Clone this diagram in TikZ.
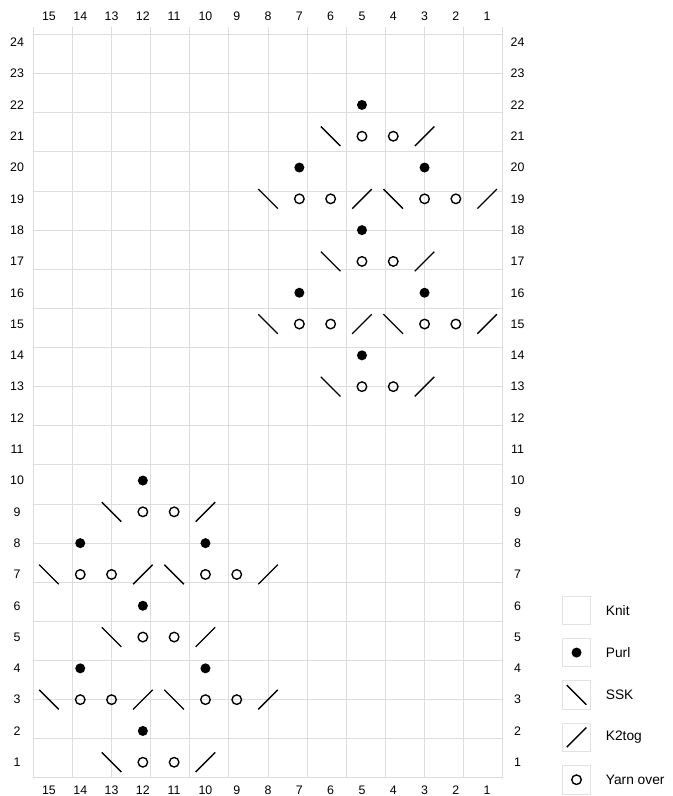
\documentclass[tikz,border=0pt]{standalone}
\usepackage{fontspec}
\setmainfont{Liberation Sans}
\usetikzlibrary{positioning}

\definecolor{gridgray}{HTML}{DDDDDD}
\definecolor{keygray}{HTML}{E2E2E2}

\begin{document}
\begin{tikzpicture}[
    x=0.8cm, y=0.8cm,
    cell/.style={rectangle, minimum size=0.8cm, inner sep=0pt, outer sep=0pt},
    keybox/.style={rectangle, draw=keygray, line width=0.6pt, minimum size=0.726cm, inner sep=0pt},
    purl/.style={path picture={\fill[black] (path picture bounding box.center) circle (0.128cm);}},
    yarnover/.style={path picture={\draw[black, line width=1pt] (path picture bounding box.center) circle (0.122cm);}},
    ssk/.style={path picture={\draw[black, line width=1pt] ([shift={(-0.25cm,0.25cm)}]path picture bounding box.center) -- ([shift={(0.25cm,-0.25cm)}]path picture bounding box.center);}},
    ktog/.style={path picture={\draw[black, line width=1pt] ([shift={(-0.25cm,-0.25cm)}]path picture bounding box.center) -- ([shift={(0.25cm,0.25cm)}]path picture bounding box.center);}},
    numlabel/.style={font=\fontsize{9}{10}\selectfont, inner sep=0pt},
    keylabel/.style={font=\fontsize{10}{12}\selectfont, inner sep=0pt}
]
\useasboundingbox (-1.064,-0.578) rectangle (20.406,24.853);

% chart grid
\draw[gridgray, line width=0.7pt] (0,0) grid (15,24);

% stitch and row numbers
\foreach \c in {1,...,15} {
  \node[numlabel] (top\c) at (15.5-\c,24.32) {\c};
  \node[numlabel] (bot\c) at (15.5-\c,-0.39) {\c};
}
\foreach \r in {1,...,24} {
  \node[numlabel] (left\r) at (-0.52,\r-0.5) {\r};
  \node[numlabel] (right\r) at (15.47,\r-0.5) {\r};
}

% the two motifs: lower left and upper right
\foreach \m/\dx/\dy in {a/0/0, b/7/12} {
  \begin{scope}[shift={(\dx,\dy)}]
    \foreach \r in {1,5,9} {
      \node[cell, ssk]      (\m-ssk-\r) at (2.5,\r-0.5) {};
      \node[cell, yarnover] (\m-yol-\r) at (3.5,\r-0.5) {};
      \node[cell, yarnover] (\m-yor-\r) at (4.5,\r-0.5) {};
      \node[cell, ktog]     (\m-k2-\r)  at (5.5,\r-0.5) {};
    }
    \foreach \r in {2,6,10}
      \node[cell, purl] (\m-p-\r) at (3.5,\r-0.5) {};
    \foreach \r in {3,7} {
      \node[cell, ssk]      (\m-sskl-\r) at (0.5,\r-0.5) {};
      \node[cell, yarnover] (\m-yo1-\r)  at (1.5,\r-0.5) {};
      \node[cell, yarnover] (\m-yo2-\r)  at (2.5,\r-0.5) {};
      \node[cell, ktog]     (\m-k2l-\r)  at (3.5,\r-0.5) {};
      \node[cell, ssk]      (\m-sskr-\r) at (4.5,\r-0.5) {};
      \node[cell, yarnover] (\m-yo3-\r)  at (5.5,\r-0.5) {};
      \node[cell, yarnover] (\m-yo4-\r)  at (6.5,\r-0.5) {};
      \node[cell, ktog]     (\m-k2r-\r)  at (7.5,\r-0.5) {};
    }
    \foreach \r in {4,8} {
      \node[cell, purl] (\m-pl-\r) at (1.5,\r-0.5) {};
      \node[cell, purl] (\m-pr-\r) at (5.5,\r-0.5) {};
    }
  \end{scope}
}

% key
\node[keybox]           (knitkey) at (17.355,5.358) {};
\node[keybox, purl]     (purlkey) at (17.355,4.004) {};
\node[keybox, ssk]      (sskkey)  at (17.355,2.650) {};
\node[keybox, ktog]     (ktogkey) at (17.355,1.296) {};
\node[keybox, yarnover] (yokey)   at (17.355,-0.058) {};

\node[keylabel, right=0.37cm of knitkey] (knittext) {Knit};
\node[keylabel, right=0.37cm of purlkey] (purltext) {Purl};
\node[keylabel, right=0.37cm of sskkey]  (ssktext)  {SSK};
\node[keylabel, right=0.37cm of ktogkey] (ktogtext) {K2tog};
\node[keylabel, right=0.37cm of yokey]   (yotext)   {Yarn over};
\end{tikzpicture}
\end{document}
